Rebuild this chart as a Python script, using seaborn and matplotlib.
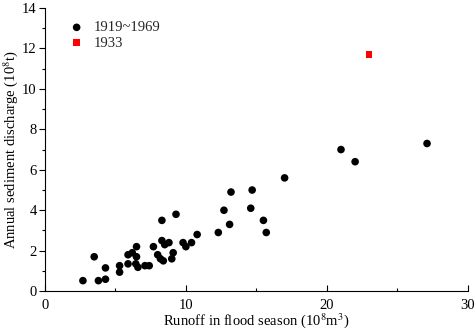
import matplotlib
matplotlib.use("Agg")
import matplotlib.pyplot as plt
import seaborn as sns
import pandas as pd
from matplotlib.ticker import MultipleLocator

# Data (runoff 10^8 m^3, sediment 10^8 t)
runoff_1919_1969 = [27.1, 22.0, 21.0, 17.0, 14.7, 13.2, 14.6, 12.7, 15.5, 15.7,
                    13.1, 12.3, 10.8, 10.4, 10.0, 9.8, 9.1, 9.0, 8.8, 8.5,
                    8.3, 8.3, 9.3, 8.0, 8.2, 8.4, 7.7, 7.1, 7.4, 6.5,
                    6.5, 6.45, 6.6, 6.2, 5.9, 5.9, 5.3, 5.3, 4.3, 3.5,
                    4.3, 3.8, 2.7]
sediment_1919_1969 = [7.3, 6.4, 7.0, 5.6, 5.0, 4.9, 4.1, 4.0, 3.5, 2.9,
                      3.3, 2.9, 2.8, 2.4, 2.2, 2.4, 1.9, 1.6, 2.4, 2.3,
                      2.5, 3.5, 3.8, 1.8, 1.6, 1.5, 2.2, 1.26, 1.26, 2.2,
                      1.7, 1.35, 1.18, 1.9, 1.8, 1.35, 1.26, 0.94, 1.15, 1.7,
                      0.59, 0.52, 0.52]
runoff_1933 = [23.0]
sediment_1933 = [11.7]

x_ticks = [0, 10, 20, 30]
y_ticks = [0, 2, 4, 6, 8, 10, 12, 14]

sns.set_theme(style="ticks")
plt.rcParams['font.family'] = ['Liberation Serif', 'DejaVu Serif']
plt.rcParams['mathtext.fontset'] = 'stix'

fig = plt.figure(figsize=(4.77, 3.32), dpi=100)
ax = fig.add_axes([0.094, 0.123, 0.887, 0.853])

df1 = pd.DataFrame({"x": runoff_1919_1969, "y": sediment_1919_1969})
df2 = pd.DataFrame({"x": runoff_1933, "y": sediment_1933})
sns.scatterplot(data=df1, x="x", y="y", ax=ax, color="black", marker="o",
                s=30, edgecolor="none", label="1919~1969")
sns.scatterplot(data=df2, x="x", y="y", ax=ax, color="#ff0000", marker="s",
                s=22, edgecolor="none", label="1933")

ax.set_xlim(0, 30)
ax.set_ylim(0, 14)
ax.set_xticks(x_ticks)
ax.set_yticks(y_ticks)
ax.xaxis.set_minor_locator(MultipleLocator(5))
ax.yaxis.set_minor_locator(MultipleLocator(1))
ax.tick_params(axis='x', which='major', direction='in', length=4, width=0.8,
               labelsize=10.5, pad=6, color='black', labelcolor='black')
ax.tick_params(axis='x', which='minor', direction='in', length=2.5, width=0.8, color='black')
ax.tick_params(axis='y', which='major', direction='out', length=4, width=0.8,
               labelsize=10.5, pad=2, color='black', labelcolor='black')
ax.tick_params(axis='y', which='minor', direction='out', length=2.5, width=0.8, color='black')

for side in ['top', 'right']:
    ax.spines[side].set_visible(False)
for side in ['left', 'bottom']:
    ax.spines[side].set_color('black')
    ax.spines[side].set_linewidth(0.8)

ax.set_xlabel("Runoff in flood season (10$^{8}$m$^{3}$)", fontsize=10.5, color='black')
ax.set_ylabel("Annual sediment discharge (10$^{8}$t)", fontsize=10.5, color='black')
ax.xaxis.set_label_coords(0.5, -0.072)
ax.yaxis.set_label_coords(-0.058, 0.5)

leg = ax.legend(loc='upper left', frameon=False, fontsize=10.5, handletextpad=0.2,
                borderaxespad=0.2, bbox_to_anchor=(0.02, 0.985), labelspacing=0.15)

fig.savefig("out.png", dpi=100)
